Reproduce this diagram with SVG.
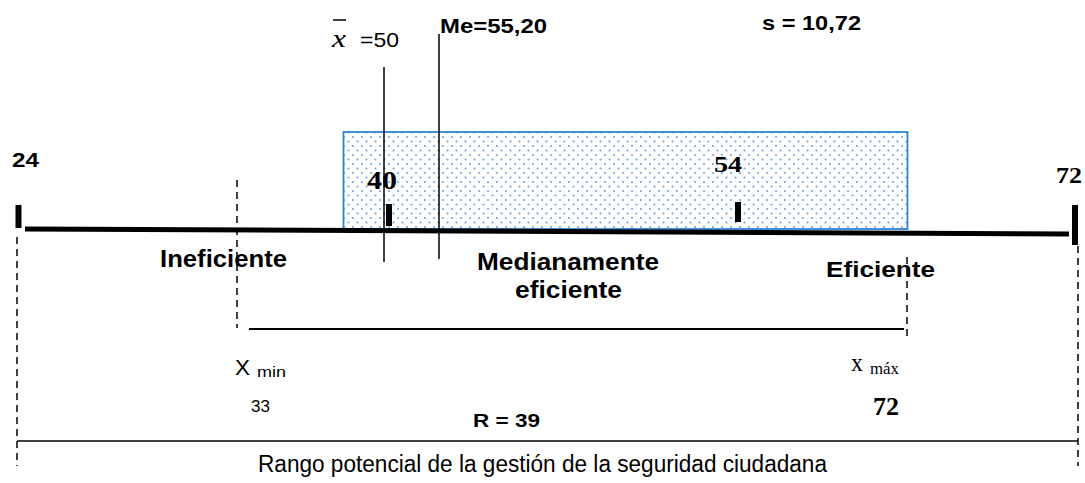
<svg xmlns="http://www.w3.org/2000/svg" width="1085" height="483" viewBox="0 0 1085 483">
<defs>
<pattern id="dots" width="9" height="9" patternUnits="userSpaceOnUse">
<rect width="9" height="9" fill="#ffffff"/>
<circle cx="2" cy="2" r="1.1" fill="#6fa6e4"/>
<circle cx="6.5" cy="6.5" r="1.1" fill="#6fa6e4"/>
</pattern>
</defs>
<style>
.sb{font-family:"Liberation Sans",Arial,sans-serif;font-weight:bold;fill:#000}
.s{font-family:"Liberation Sans",Arial,sans-serif;fill:#000}
.rb{font-family:"Liberation Serif","Times New Roman",serif;font-weight:bold;fill:#000}
.r{font-family:"Liberation Serif","Times New Roman",serif;fill:#000}
.dash{stroke:#000;stroke-width:1.5;stroke-dasharray:7,5;fill:none}
.tick{stroke:#000;stroke-width:6;fill:none}
</style>
<g id="box">
<rect x="343.5" y="132" width="564" height="97" fill="url(#dots)" stroke="#2c84d6" stroke-width="1.8"/>
</g>
<g id="connectors">
<line x1="25" y1="229" x2="1069" y2="234" stroke="#000" stroke-width="5"/>
<line class="tick" x1="18.5" y1="205" x2="18.5" y2="228"/>
<line class="tick" x1="1075" y1="205" x2="1075" y2="245"/>
<line class="tick" x1="389" y1="204" x2="389" y2="226"/>
<line class="tick" x1="738" y1="202" x2="738" y2="222"/>
<line x1="384" y1="67" x2="384" y2="262" stroke="#000" stroke-width="1.5"/>
<line x1="439" y1="34" x2="439" y2="259" stroke="#000" stroke-width="1.5"/>
<line class="dash" x1="17" y1="237" x2="17" y2="466"/>
<line class="dash" x1="237" y1="180" x2="237" y2="328"/>
<line class="dash" x1="907" y1="257" x2="907" y2="340"/>
<line class="dash" x1="1078" y1="246" x2="1078" y2="466"/>
<line x1="249" y1="329" x2="904" y2="329" stroke="#000" stroke-width="2"/>
<line x1="17" y1="441" x2="1078" y2="441" stroke="#000" stroke-width="1.5"/>
</g>
<g id="labels">
<text class="r" x="332" y="47" font-size="26" font-style="italic" textLength="14" lengthAdjust="spacingAndGlyphs">x</text>
<line x1="333" y1="20" x2="346" y2="20" stroke="#000" stroke-width="1.5"/>
<text class="s" x="360" y="47" font-size="21" textLength="39" lengthAdjust="spacingAndGlyphs">=50</text>
<text class="sb" x="440" y="33" font-size="21" textLength="107" lengthAdjust="spacingAndGlyphs">Me=55,20</text>
<text class="sb" x="762" y="30" font-size="21" textLength="99" lengthAdjust="spacingAndGlyphs">s = 10,72</text>
<text class="sb" x="12" y="167" font-size="20" textLength="27" lengthAdjust="spacingAndGlyphs">24</text>
<text class="rb" x="367" y="189" font-size="25" textLength="30" lengthAdjust="spacingAndGlyphs">40</text>
<text class="rb" x="714" y="172" font-size="24" textLength="28" lengthAdjust="spacingAndGlyphs">54</text>
<text class="rb" x="1056" y="183" font-size="23" textLength="26" lengthAdjust="spacingAndGlyphs">72</text>
<text class="sb" x="160" y="267" font-size="23" textLength="127" lengthAdjust="spacingAndGlyphs">Ineficiente</text>
<text class="sb" x="477" y="270" font-size="24" textLength="182" lengthAdjust="spacingAndGlyphs">Medianamente</text>
<text class="sb" x="515" y="298" font-size="24" textLength="107" lengthAdjust="spacingAndGlyphs">eficiente</text>
<text class="sb" x="826" y="277" font-size="22" textLength="109" lengthAdjust="spacingAndGlyphs">Eficiente</text>
<text class="s" x="235" y="375" font-size="22" textLength="15" lengthAdjust="spacingAndGlyphs">X</text>
<text class="s" x="257" y="377" font-size="15" textLength="29" lengthAdjust="spacingAndGlyphs">min</text>
<text class="r" x="851" y="371" font-size="26" textLength="12" lengthAdjust="spacingAndGlyphs">x</text>
<text class="r" x="870" y="374" font-size="17" textLength="29" lengthAdjust="spacingAndGlyphs">máx</text>
<text class="s" x="251" y="412" font-size="17" textLength="19" lengthAdjust="spacingAndGlyphs">33</text>
<text class="sb" x="473" y="427" font-size="18" textLength="67" lengthAdjust="spacingAndGlyphs">R = 39</text>
<text class="rb" x="873" y="415" font-size="25" textLength="26" lengthAdjust="spacingAndGlyphs">72</text>
<text class="s" x="258" y="472" font-size="23" textLength="569" lengthAdjust="spacingAndGlyphs">Rango potencial de la gestión de la seguridad ciudadana</text>
</g>
</svg>
